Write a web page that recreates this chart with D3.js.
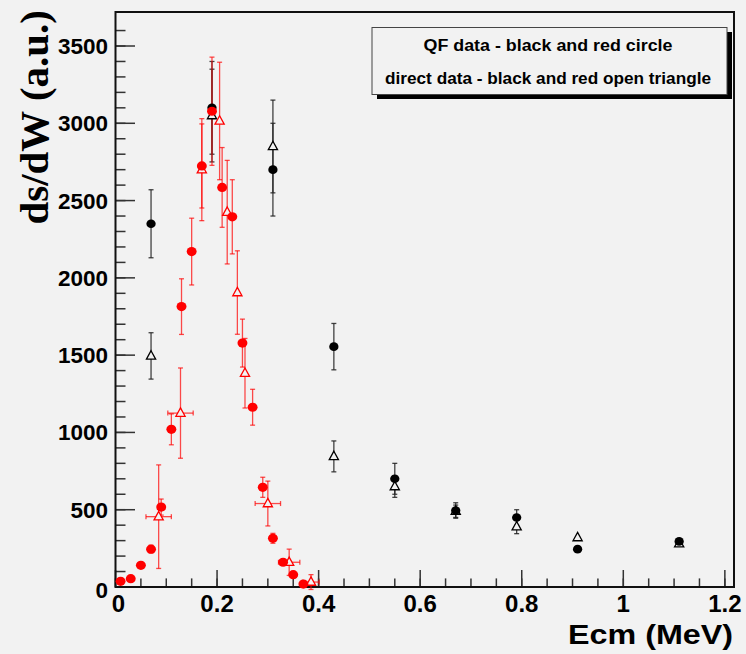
<!DOCTYPE html>
<html>
<head>
<meta charset="utf-8">
<script src="https://cdn.jsdelivr.net/npm/d3@7"></script>
<style>
  html, body { margin: 0; padding: 0; background: #f2f2f2; }
  svg { display: block; }
  .tick-label { font-family: "Liberation Sans", Arial, Helvetica, sans-serif; font-weight: bold; fill: #000; }
</style>
</head>
<body>
<svg id="chart" width="746" height="654"></svg>
<script>
// QF data (black), high-energy set
const qfBlackE   = [0.07, 0.19, 0.31, 0.43, 0.55, 0.67, 0.79, 0.91, 1.11];
const qfBlackY   = [2350, 3100, 2700, 1555, 700, 495, 450, 245, 295];
const qfBlackErr = [220, 300, 300, 150, 100, 50, 50, 0, 0];

// direct data (black open triangles)
const dirBlackE   = [0.07, 0.19, 0.31, 0.43, 0.55, 0.67, 0.79, 0.91, 1.11];
const dirBlackY   = [1495, 3050, 2850, 845, 650, 490, 390, 320, 280];
const dirBlackErr = [150, 300, 300, 100, 70, 40, 45, 0, 0];

// QF data (red circles), low-energy set
const qfRedE   = [0.01, 0.03, 0.05, 0.07, 0.09, 0.11, 0.13, 0.15, 0.17, 0.19, 0.21, 0.23, 0.25, 0.27, 0.29, 0.31, 0.33, 0.35, 0.37];
const qfRedY   = [37, 54, 140, 245, 517, 1020, 1814, 2170, 2724, 3078, 2585, 2395, 1578, 1163, 645, 315, 160, 80, 19];
const qfRedErr = [4, 5, 14, 25, 52, 100, 180, 216, 272, 350, 258, 240, 155, 116, 65, 32, 16, 8, 2];

// direct data (red open triangles)
const dirRedE    = [0.085, 0.128, 0.17, 0.205, 0.22, 0.24, 0.255, 0.30, 0.342, 0.385];
const dirRedY    = [455, 1125, 2700, 3015, 2425, 1905, 1383, 540, 160, 32];
const dirRedErr  = [335, 292, 330, 380, 335, 270, 225, 145, 85, 48];
const dirRedErrE = [0.025, 0.025, 0, 0, 0, 0, 0, 0.025, 0.021, 0.016];

const xTicks = [0, 0.2, 0.4, 0.6, 0.8, 1, 1.2];
const yTicks = [0, 500, 1000, 1500, 2000, 2500, 3000, 3500];
const legendLines = ["QF data - black and red circle", "direct data - black and red open triangle"];

const svg = d3.select("#chart");
const frameL = 115.5, frameR = 734, frameT = 12, frameB = 587;

const x = d3.scaleLinear().domain([0, 1.218]).range([frameL, frameR]);
const y = d3.scaleLinear().domain([0, 3720]).range([frameB, frameT]);

// axes: ticks pointing into the frame
const xMinor = d3.range(0, 1.2001, 0.05);
const yMinor = d3.range(0, 3700, 100);

const ax = svg.append("g");
ax.selectAll("line.xmin").data(xMinor).join("line")
  .attr("x1", d => x(d)).attr("x2", d => x(d))
  .attr("y1", frameB).attr("y2", frameB - 8.6)
  .attr("stroke", "#333").attr("stroke-width", 1.5);
ax.selectAll("line.xmaj").data(xTicks).join("line")
  .attr("x1", d => x(d)).attr("x2", d => x(d))
  .attr("y1", frameB).attr("y2", frameB - 17)
  .attr("stroke", "#333").attr("stroke-width", 1.5);
ax.selectAll("line.ymin").data(yMinor).join("line")
  .attr("x1", frameL).attr("x2", frameL + 10)
  .attr("y1", d => y(d)).attr("y2", d => y(d))
  .attr("stroke", "#333").attr("stroke-width", 1.5);
ax.selectAll("line.ymaj").data(yTicks).join("line")
  .attr("x1", frameL).attr("x2", frameL + 19.5)
  .attr("y1", d => y(d)).attr("y2", d => y(d))
  .attr("stroke", "#333").attr("stroke-width", 1.5);

// tick labels
ax.selectAll("text.xl").data(xTicks).join("text")
  .attr("class", "tick-label").style("font-size", "24px")
  .attr("x", d => x(d) + (d === 0 ? 3 : 0)).attr("y", 612)
  .attr("text-anchor", "middle")
  .text(d => d3.format("~g")(d));
ax.selectAll("text.yl").data(yTicks).join("text")
  .attr("class", "tick-label").style("font-size", "22.5px")
  .attr("x", 108).attr("y", d => y(d) + 8 + (d === 0 ? 3 : 0))
  .attr("text-anchor", "end")
  .text(d => d);

// frame
svg.append("rect")
  .attr("x", frameL).attr("y", frameT)
  .attr("width", frameR - frameL).attr("height", frameB - frameT)
  .attr("fill", "none").attr("stroke", "#111").attr("stroke-width", 2);

// axis titles
svg.append("text")
  .attr("x", 733).attr("y", 644)
  .attr("text-anchor", "end")
  .attr("textLength", 165)
  .attr("lengthAdjust", "spacingAndGlyphs")
  .style("font-family", "'Liberation Sans', Arial, sans-serif")
  .style("font-weight", "bold").style("font-size", "27px")
  .text("Ecm (MeV)");
svg.append("text")
  .attr("transform", "translate(48,10) rotate(-90)")
  .attr("text-anchor", "end")
  .style("font-family", "'Liberation Serif', 'Times New Roman', serif")
  .style("font-weight", "bold").style("font-size", "41px")
  .text("ds/dW (a.u.)");

// legend box with drop shadow
const lg = svg.append("g");
lg.append("rect").attr("x", 377).attr("y", 32).attr("width", 355).attr("height", 67).attr("fill", "#000");
lg.append("rect").attr("x", 372).attr("y", 27.5).attr("width", 355).attr("height", 67)
  .attr("fill", "#f2f2f2").attr("stroke", "#444").attr("stroke-width", 1);
const legendWidths = [249, 326];
lg.selectAll("text").data(legendLines).join("text")
  .attr("x", 548).attr("y", (d, i) => 51 + i * 32.5)
  .attr("text-anchor", "middle")
  .attr("textLength", (d, i) => legendWidths[i])
  .attr("lengthAdjust", "spacingAndGlyphs")
  .style("font-family", "'Liberation Sans', Arial, sans-serif")
  .style("font-weight", "bold").style("font-size", "16px")
  .text(d => d);

// series drawing helpers
const plot = svg.append("g");
function zip(es, ys, errs, exs) {
  return es.map((e, i) => ({ e, v: ys[i], err: errs[i], ex: exs ? exs[i] : 0 }));
}
function errorBars(data, color, opacity) {
  const g = plot.append("g").attr("stroke", color).attr("stroke-width", 1.3).attr("stroke-opacity", opacity);
  data.filter(d => d.err > 0).forEach(d => {
    const cx = x(d.e), y1 = y(d.v + d.err), y2 = y(d.v - d.err);
    g.append("line").attr("x1", cx).attr("x2", cx).attr("y1", y1).attr("y2", y2);
    g.append("line").attr("x1", cx - 2.5).attr("x2", cx + 2.5).attr("y1", y1).attr("y2", y1);
    g.append("line").attr("x1", cx - 2.5).attr("x2", cx + 2.5).attr("y1", y2).attr("y2", y2);
  });
  data.filter(d => d.ex > 0).forEach(d => {
    const cy = y(d.v), x1 = x(d.e - d.ex), x2 = x(d.e + d.ex);
    g.append("line").attr("x1", x1).attr("x2", x2).attr("y1", cy).attr("y2", cy);
    g.append("line").attr("x1", x1).attr("x2", x1).attr("y1", cy - 2.5).attr("y2", cy + 2.5);
    g.append("line").attr("x1", x2).attr("x2", x2).attr("y1", cy - 2.5).attr("y2", cy + 2.5);
  });
}
const triPath = "M0,-5.2 L4.6,3.2 L-4.6,3.2 Z";
function triangles(data, color) {
  plot.append("g").selectAll("path").data(data).join("path")
    .attr("d", triPath)
    .attr("transform", d => `translate(${x(d.e)},${y(d.v)})`)
    .attr("fill", "#f2f2f2").attr("stroke", color).attr("stroke-width", 1.3);
}
function circles(data, color, r) {
  plot.append("g").selectAll("ellipse").data(data).join("ellipse")
    .attr("cx", d => x(d.e)).attr("cy", d => y(d.v))
    .attr("rx", r * 1.08).attr("ry", r)
    .attr("fill", color);
}

const dirBlack = zip(dirBlackE, dirBlackY, dirBlackErr);
const qfBlack = zip(qfBlackE, qfBlackY, qfBlackErr);
const dirRed = zip(dirRedE, dirRedY, dirRedErr, dirRedErrE);
const qfRed = zip(qfRedE, qfRedY, qfRedErr);

errorBars(dirBlack, "#222", 0.85);
errorBars(qfBlack, "#222", 0.85);
errorBars(dirRed, "#ff0000", 0.7);
errorBars(qfRed, "#ff0000", 0.7);
triangles(dirBlack, "#000");
circles(qfBlack, "#000", 4.3);
triangles(dirRed, "#ff0000");
circles(qfRed, "#ff0000", 4.6);
</script>
</body>
</html>
